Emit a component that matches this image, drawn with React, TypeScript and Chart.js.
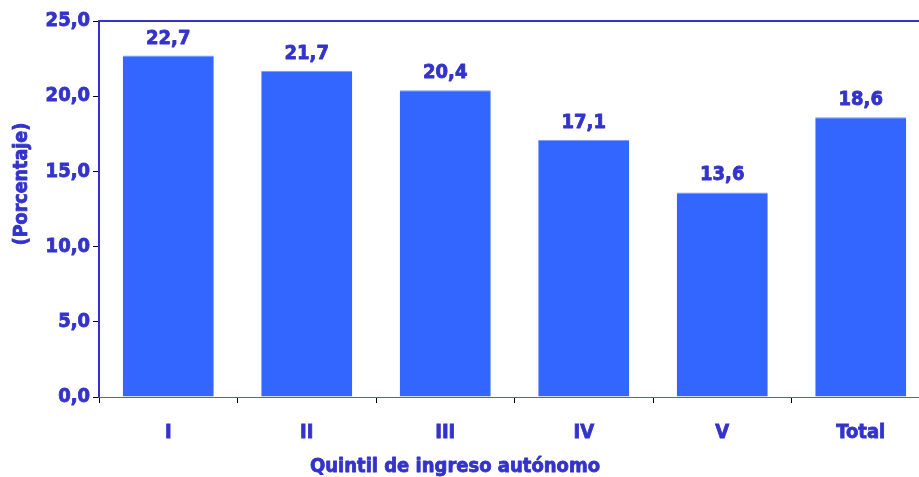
import React, { useEffect, useRef } from "react";
import { Chart, registerables } from "chart.js";

Chart.register(...registerables);

const categories = ["I", "II", "III", "IV", "V", "Total"];
const values = [22.7, 21.7, 20.4, 17.1, 13.6, 18.6];
const yTicks = [0, 5, 10, 15, 20, 25];
const xTitle = "Quintil de ingreso autónomo";
const yTitle = "(Porcentaje)";

const TEXT = "#3333cc";
const BAR = "#3366ff";
const FONT = "'DejaVu Sans Condensed', 'DejaVu Sans', Verdana, sans-serif";
const STROKE = 0.8;

const fmt = (v: number) => v.toFixed(1).replace(".", ",");

export default function App() {
  const ref = useRef<HTMLCanvasElement | null>(null);
  useEffect(() => {
    if (!ref.current) return;
    const extras = {
      id: "extras",
      afterDatasetsDraw(chart: any) {
        const ctx = chart.ctx;
        const ca = chart.chartArea;
        ctx.save();
        // top frame line
        ctx.strokeStyle = TEXT;
        ctx.lineWidth = 2;
        ctx.beginPath();
        ctx.moveTo(ca.left - 1, ca.top);
        ctx.lineTo(ca.right, ca.top);
        ctx.stroke();
        // data labels
        ctx.fillStyle = TEXT;
        ctx.lineWidth = STROKE;
        ctx.lineJoin = "round";
        ctx.font = `bold 20px ${FONT}`;
        ctx.textAlign = "center";
        ctx.textBaseline = "alphabetic";
        const meta = chart.getDatasetMeta(0);
        meta.data.forEach((bar: any, i: number) => {
          const t = fmt(values[i]);
          ctx.fillText(t, bar.x, bar.y - 12);
          ctx.strokeText(t, bar.x, bar.y - 12);
        });
        // axis titles
        ctx.font = `bold 20px ${FONT}`;
        ctx.textBaseline = "middle";
        ctx.fillText(xTitle, 455, 467);
        ctx.strokeText(xTitle, 455, 467);
        ctx.translate(22, 184);
        ctx.rotate(-Math.PI / 2);
        ctx.font = `bold 19.5px ${FONT}`;
        ctx.fillText(yTitle, 0, 0);
        ctx.strokeText(yTitle, 0, 0);
        ctx.restore();
      },
    };
    const chart = new Chart(ref.current, {
      type: "bar",
      data: {
        labels: categories,
        datasets: [
          {
            data: values,
            backgroundColor: BAR,
            borderColor: "#7799ff",
            borderWidth: { top: 1, left: 0, right: 0, bottom: 0 },
            categoryPercentage: 1,
            barPercentage: 0.657,
          },
        ],
      },
      options: {
        responsive: false,
        animation: false,
        layout: { padding: { top: 21, left: 0, right: 0, bottom: 0 } },
        plugins: { legend: { display: false }, tooltip: { enabled: false } },
        scales: {
          x: {
            offset: true,
            grid: {
              display: true,
              drawOnChartArea: false,
              offset: true,
              tickLength: 6,
              tickColor: "#000000",
            },
            border: { display: true, color: "#5a5ad0", width: 1 },
            ticks: {
              color: TEXT,
              textStrokeColor: TEXT,
              textStrokeWidth: STROKE,
              font: { family: FONT, size: 20, weight: "bold" },
              padding: 18,
              maxRotation: 0,
            },
            afterFit(scale: any) {
              scale.height = 80;
            },
          },
          y: {
            min: 0,
            max: 25,
            afterBuildTicks(scale: any) {
              scale.ticks = yTicks.map((v) => ({ value: v }));
            },
            grid: {
              display: true,
              drawOnChartArea: false,
              tickLength: 6,
              tickColor: "#000000",
            },
            border: { display: true, color: TEXT, width: 2 },
            ticks: {
              color: TEXT,
              textStrokeColor: TEXT,
              textStrokeWidth: STROKE,
              font: { family: FONT, size: 20, weight: "bold" },
              padding: 3,
              callback: (v: any) => fmt(Number(v)),
            },
            afterFit(scale: any) {
              scale.width = 99;
            },
          },
        },
      },
      plugins: [extras],
    } as any);
    return () => chart.destroy();
  }, []);
  return (
    <div
      style={{
        position: "fixed",
        left: 0,
        top: 0,
        width: 919,
        height: 477,
        overflow: "hidden",
        background: "#ffffff",
      }}
    >
      <canvas ref={ref} width={930} height={477} style={{ width: 930, height: 477, display: "block" }} />
    </div>
  );
}
